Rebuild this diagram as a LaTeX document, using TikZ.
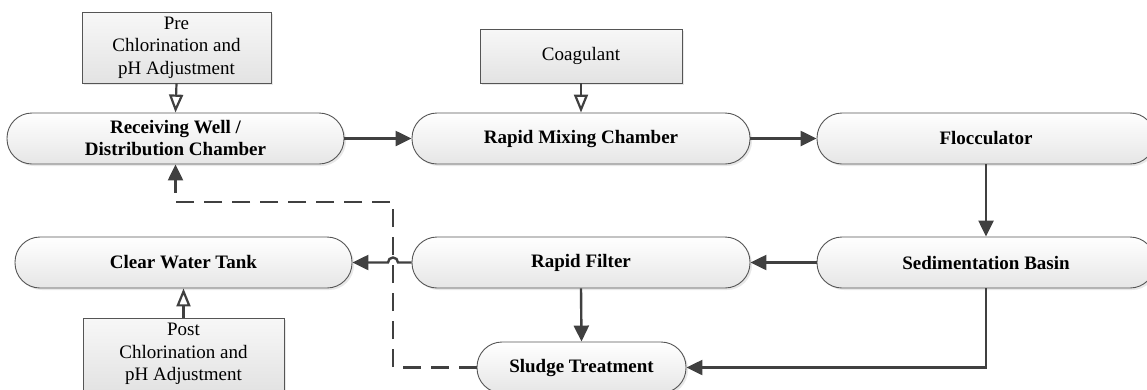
\documentclass[tikz,border=0pt]{standalone}
\usepackage{fontspec}
\setmainfont{Liberation Serif}
\usetikzlibrary{arrows.meta,shadows}

\definecolor{linegrey}{HTML}{404040}
\definecolor{edgegrey}{HTML}{555555}

\tikzset{
  proc/.style={rounded corners=25pt, draw=edgegrey, line width=0.9pt,
    top color=white, bottom color=black!10,
    drop shadow={shadow xshift=2pt, shadow yshift=-2pt, fill=black!18},
    minimum width=338pt, minimum height=51pt, inner sep=0pt, align=center,
    font=\fontsize{19}{22}\selectfont\bfseries},
  chem/.style={draw=edgegrey, line width=0.9pt,
    top color=black!3, bottom color=black!11,
    drop shadow={shadow xshift=2pt, shadow yshift=-2pt, fill=black!18},
    inner sep=0pt, align=center, font=\fontsize{19}{22.5}\selectfont},
  conn/.style={draw=linegrey, line width=2.4pt, -{Triangle[length=16pt,width=15pt]}},
  dose/.style={draw=linegrey, line width=2.2pt, -{Triangle[open,length=18pt,width=14pt,fill=white]}},
  recycle/.style={draw=linegrey, line width=2.4pt, dash pattern=on 18pt off 10pt,
    -{Triangle[length=16pt,width=15pt]}}
}

\begin{document}
\begin{tikzpicture}[x=1pt,y=-1pt]
  \useasboundingbox (0,0) rectangle (1147,389);
  \clip (0,0) rectangle (1147,389);

  % process units
  \node[proc, minimum width=337pt] (rw) at (175.5,138.5) {Receiving Well /\\Distribution Chamber};
  \node[proc] (rm) at (581,138.5) {Rapid Mixing Chamber};
  \node[proc] (fl) at (986,138.5) {Flocculator};
  \node[proc] (sb) at (986,262.5) {Sedimentation Basin};
  \node[proc] (rf) at (581,262.5) {Rapid Filter};
  \node[proc, minimum width=337pt] (cw) at (183.5,262.5) {Clear Water Tank};
  \node[proc, minimum width=209pt] (st) at (581.5,367.5) {Sludge Treatment};

  % chemical dosing
  \node[chem, minimum width=189pt, minimum height=71pt] (pre) at (176.5,47.5) {Pre\\Chlorination and\\pH Adjustment};
  \node[chem, minimum width=202pt, minimum height=54pt] (coag) at (581,56) {Coagulant};
  \node[chem, minimum width=201pt, minimum height=72pt] (post) at (183.5,354) {Post\\Chlorination and\\pH Adjustment};

  % dosing arrows
  \draw[dose] (pre.south) -- (rw.north);
  \draw[dose] (coag.south) -- (rm.north);
  \draw[dose] (post.north) -- (cw.south);

  % main treatment line
  \draw[conn] (rw.east) -- (rm.west);
  \draw[conn] (rm.east) -- (fl.west);
  \draw[conn] (fl.south) -- (sb.north);
  \draw[conn] (sb.west) -- (rf.west -| rf.east);
  \draw[conn] (rf.south) -- (st.north);
  \draw[conn] (sb.south) |- (st.east);

  % recycle of sludge water back to the receiving well
  \coordinate (dv) at (393,202);
  \draw[recycle] (st.west) -| (dv) -| (rw.south);

  % filtered water to the clear water tank, hopping over the recycle line
  \draw[conn] (rf.west) -- ([xshift=5pt]dv |- rf.west)
    arc[start angle=0, end angle=180, radius=5pt] -- (cw.east);
\end{tikzpicture}
\end{document}
